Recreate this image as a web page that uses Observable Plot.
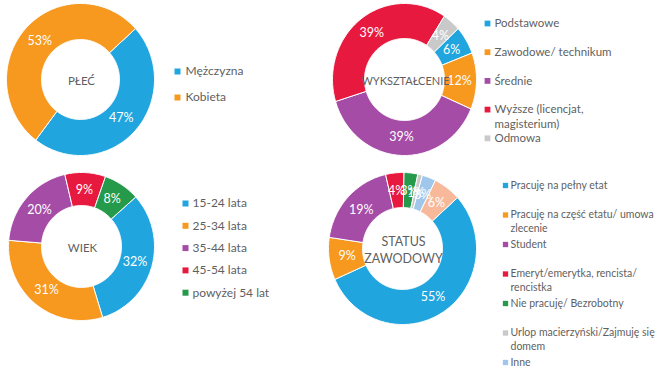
<!DOCTYPE html>
<html><head><meta charset="utf-8">
<script src="https://cdn.jsdelivr.net/npm/d3@7"></script>
<script src="https://cdn.jsdelivr.net/npm/@observablehq/plot@0.6"></script>
<style>body{margin:0;background:#fff} #chart svg{display:block}</style>
</head><body><div id="chart"></div>
<script>
// ---- data ----
const plecCategories = ["Mężczyzna", "Kobieta"];
const plecValues = [47, 53];

const wyksztalcenieCategories = ["Podstawowe", "Zawodowe/ technikum", "Średnie", "Wyższe (licencjat,\nmagisterium)", "Odmowa"];
const wyksztalcenieValues = [6, 12, 39, 39, 4];

const wiekCategories = ["15-24 lata", "25-34 lata", "35-44 lata", "45-54 lata", "powyżej 54 lat"];
const wiekValues = [32, 31, 20, 9, 8];

// the 8th (peach) slice has no entry in the original legend
const statusCategories = ["Pracuję na pełny etat", "Pracuję na część etatu/ umowa\nzlecenie", "Student", "Emeryt/emerytka, rencista/\nrencistka", "Nie pracuję/ Bezrobotny", "Urlop macierzyński/Zajmuję się\ndomem", "Inne"];
const statusValues = [55, 9, 19, 4, 3, 1, 3, 6];

// ---- styles ----
const C = {blue:"#20a5de", orange:"#f7981f", purple:"#a54ca6", red:"#e8193e", green:"#249a4a", gray:"#c9c9c9", lightblue:"#a0c7eb", peach:"#f7b99a"};
const textGray = "#5f5f5f";

const charts = [
  {title:["PŁEĆ"], cats:plecCategories, vals:plecValues, colors:[C.blue, C.orange],
   cx:80, cy:79, rx:74, ry:76, irx:39, iry:40, start:48, titleSize:11.5, titleLH:0,
   lg:{mx:177, tx:185, y0:71, step:26, lh:14, size:12, ms:7}},
  {title:["WYKSZTAŁCENIE"], cats:wyksztalcenieCategories, vals:wyksztalcenieValues, colors:[C.blue, C.orange, C.purple, C.red, C.gray],
   cx:404, cy:79, rx:72, ry:76, irx:40, iry:41, start:48, titleSize:11, titleLH:0,
   lg:{mx:487, tx:494, y0:23, step:28.7, lh:15, size:11.5, ms:6.5}},
  {title:["WIEK"], cats:wiekCategories, vals:wiekValues, colors:[C.blue, C.orange, C.purple, C.red, C.green],
   cx:81, cy:246, rx:73, ry:74, irx:40, iry:41, start:48, titleSize:11.5, titleLH:0,
   lg:{mx:185, tx:192, y0:203, step:22.3, lh:14, size:12, ms:7}},
  {title:["STATUS", "ZAWODOWY"], cats:statusCategories, vals:statusValues, colors:[C.blue, C.orange, C.purple, C.red, C.green, C.gray, C.lightblue, C.peach],
   cx:402, cy:248, rx:74, ry:76, irx:40, iry:41, start:48, titleSize:12.5, titleLH:17,
   lg:{mx:505, tx:510, y0:185, step:29.5, lh:13.5, size:10.5, ms:5.5}}
];

const rad = Math.PI / 180;
const slicePolys = [], pctLabels = [], titleLines = [], legendMarks = [], legendLines = [];

charts.forEach((ch, ci) => {
  const total = d3.sum(ch.vals);
  let acc = 0;
  ch.vals.forEach((v, i) => {
    const a0 = ch.start + acc / total * 360;
    acc += v;
    const a1 = ch.start + acc / total * 360;
    const n = Math.max(2, Math.ceil((a1 - a0) / 1));
    const key = ci + "-" + i;
    const pts = [];
    for (let j = 0; j <= n; j++) {
      const a = (a0 + (a1 - a0) * j / n) * rad;
      pts.push({x: ch.cx + ch.rx * Math.sin(a), y: ch.cy - ch.ry * Math.cos(a)});
    }
    for (let j = n; j >= 0; j--) {
      const a = (a0 + (a1 - a0) * j / n) * rad;
      pts.push({x: ch.cx + ch.irx * Math.sin(a), y: ch.cy - ch.iry * Math.cos(a)});
    }
    pts.push(pts[0]);
    pts.forEach(p => slicePolys.push({...p, k: key, color: ch.colors[i]}));
    const am = (a0 + a1) / 2 * rad;
    const mrx = (ch.rx + ch.irx) / 2 - 1, mry = (ch.ry + ch.iry) / 2 - 1;
    pctLabels.push({x: ch.cx + mrx * Math.sin(am), y: ch.cy - mry * Math.cos(am), t: v + "%"});
  });
  ch.title.forEach((t, j) => {
    titleLines.push({x: ch.cx + 1, y: ch.cy + 2 + (j - (ch.title.length - 1) / 2) * ch.titleLH, t, size: ch.titleSize});
  });
  ch.cats.forEach((c, i) => {
    const yc = ch.lg.y0 + i * ch.lg.step;
    legendMarks.push({x: ch.lg.mx, y: yc, color: ch.colors[i], r: ch.lg.ms / Math.sqrt(Math.PI)});
    c.split("\n").forEach((line, j) => {
      legendLines.push({x: ch.lg.tx, y: yc + j * ch.lg.lh, t: line, size: ch.lg.size});
    });
  });
});

const font = "Lato, 'Open Sans', sans-serif";
const plot = Plot.plot({
  width: 655,
  height: 368,
  margin: 0,
  x: {type: "identity", axis: null},
  y: {type: "identity", axis: null},
  style: {fontFamily: font, background: "#fff"},
  marks: [
    Plot.line(slicePolys, {x: "x", y: "y", z: "k", fill: "color", stroke: "white", strokeWidth: 1, curve: "linear"}),
    Plot.text(pctLabels, {x: "x", y: "y", text: "t", fill: "white", fontSize: 12.5, fontFamily: font}),
    Plot.text(titleLines, {x: "x", y: "y", text: "t", fill: textGray, fontSize: d => d.size, fontFamily: font}),
    Plot.dot(legendMarks, {x: "x", y: "y", symbol: "square", fill: "color", r: "r", stroke: null}),
    Plot.text(legendLines, {x: "x", y: "y", text: "t", textAnchor: "start", fill: textGray, fontSize: d => d.size, fontFamily: font})
  ]
});
document.getElementById("chart").appendChild(plot);
</script>
</body></html>
